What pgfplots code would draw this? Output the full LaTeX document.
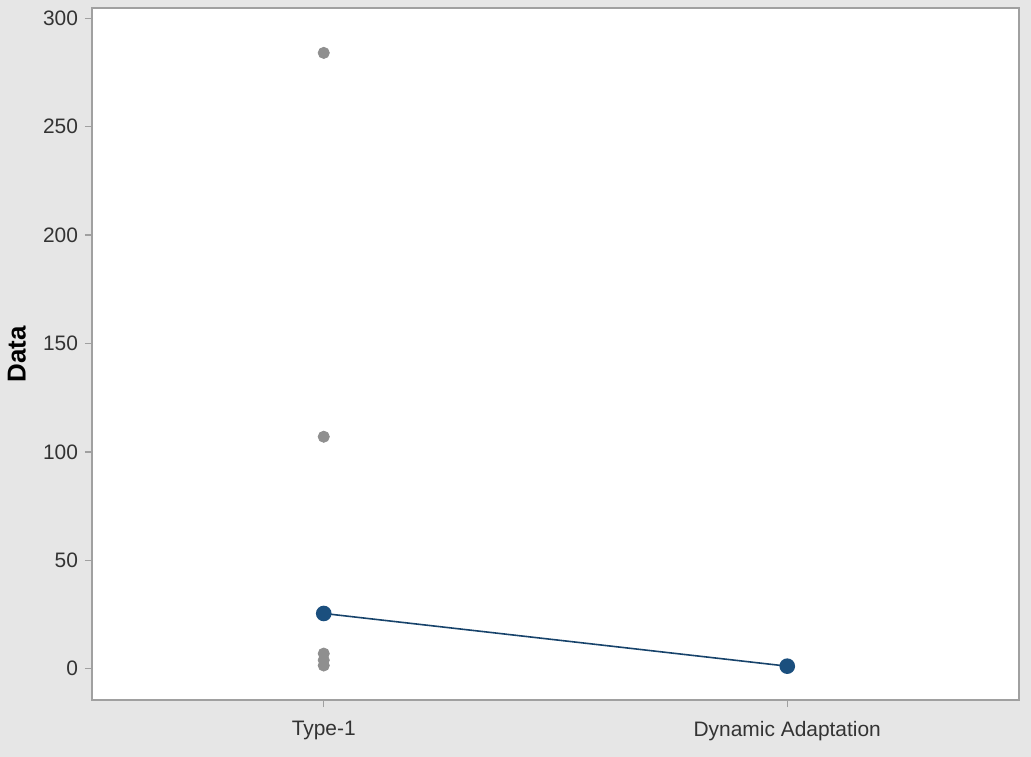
\documentclass[border=0pt]{standalone}
\usepackage{pgfplots}
\pgfplotsset{compat=1.18}
\usepackage{fontspec}
\setmainfont{Liberation Sans}
\definecolor{bgc}{HTML}{E6E6E6}
\definecolor{framec}{HTML}{A0A0A0}
\definecolor{ptgray}{HTML}{8F8F8F}
\definecolor{meanblue}{HTML}{1B4F7E}
\begin{document}
\begin{tikzpicture}
% page background (1px = 0.5bp)
\fill[bgc] (-46bp,-28.5bp) rectangle (469.5bp,350bp);
\begin{axis}[
    at={(0,0)}, anchor=south west,
    width=463.5bp, height=346bp,
    scale only axis,
    axis background/.style={fill=white},
    axis line style={framec, line width=0.8pt},
    xmin=-0.5, xmax=1.5,
    ymin=-14.4, ymax=304.7,
    xtick={0,1},
    xticklabels={Type-1, Dynamic Adaptation},
    ytick={0,50,100,150,200,250,300},
    tick align=outside,
    tick style={framec, line width=0.6pt},
    major tick length=3.5bp,
    xtick pos=bottom, ytick pos=left,
    ticklabel style={font=\fontsize{10.5}{12}\selectfont, text=black!80},
    xticklabel style={yshift=-3.5bp},
    /pgf/number format/assume math mode=true,
    ylabel={\textbf{Data}},
    ylabel style={font=\fontsize{13}{15}\selectfont, at={(axis description cs:-0.081,0.5)}, anchor=center},
    clip=false,
]
% individual values, Type-1
\addplot[only marks, mark=*, mark size=2.8bp, ptgray, mark options={draw=ptgray, fill=ptgray}] coordinates {
(0,284) (0,107) (0,7) (0,4) (0,1.5)
};
% connect line and mean markers
\addplot[meanblue!85!black, line width=0.8pt, mark=*, mark size=3.5bp, mark options={fill=meanblue, draw=meanblue}] coordinates {
(0,25.5) (1,1.2)
};
\end{axis}
\end{tikzpicture}
\end{document}
